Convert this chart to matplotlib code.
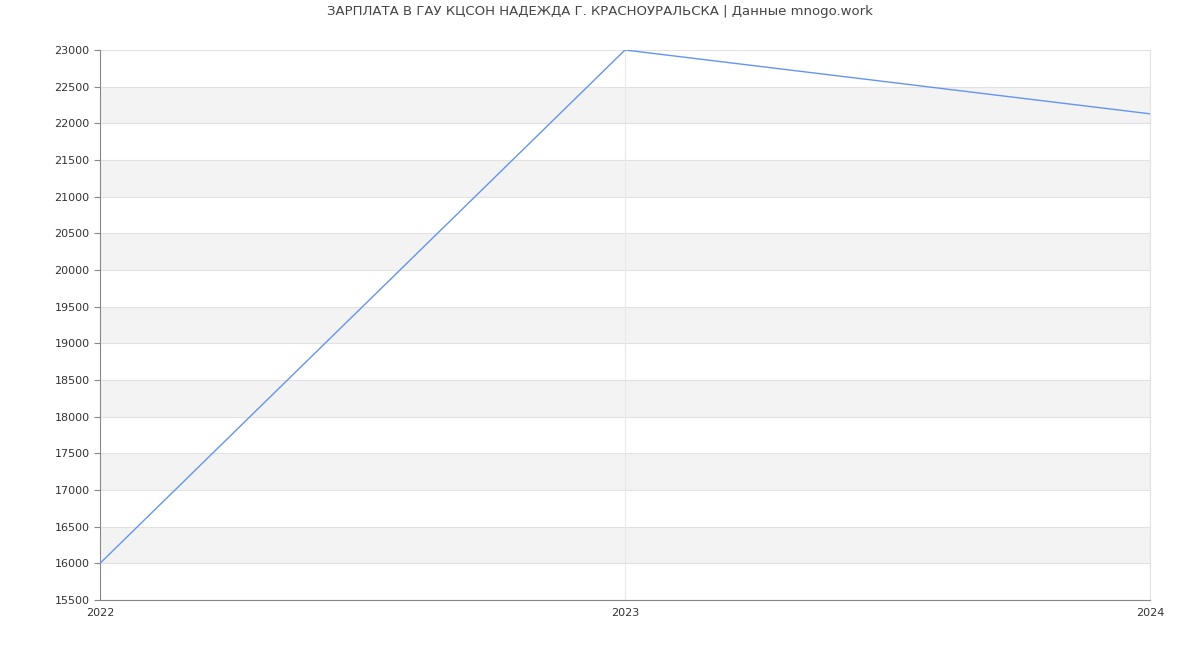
import matplotlib
matplotlib.use('Agg')
import matplotlib.pyplot as plt

# данные
years = [2022, 2023, 2024]
salary = [16000, 23000, 22130]
y_ticks = list(range(15500, 23001, 500))

fig = plt.figure(figsize=(12, 6.5), dpi=100)
ax = fig.add_axes([100/1200, 50/650, 1050/1200, 550/650])

# чередующиеся полосы
for i, lo in enumerate(y_ticks[:-1]):
    if i % 2 == 1:
        ax.axhspan(lo, lo + 500, color='#f3f3f3', zorder=0, lw=0)
for t in y_ticks:
    ax.axhline(t, color='#e2e2e2', lw=0.8, zorder=1)
for x in years:
    ax.axvline(x, color='#e8e8e8', lw=0.8, zorder=1)

ax.plot(years, salary, color='#6495ed', lw=1.0, zorder=3)

ax.set_xlim(2022, 2024)
ax.set_ylim(15500, 23000)
ax.set_xticks(years)
ax.set_yticks(y_ticks)
ax.tick_params(axis='both', labelsize=8, colors='#333333', length=4)
ax.tick_params(axis='x', length=0, pad=6)
ax.spines['top'].set_visible(False)
ax.spines['right'].set_color('#e2e2e2')
ax.spines['left'].set_color('#888888')
ax.spines['bottom'].set_color('#888888')
ax.tick_params(axis='y', color='#888888')

fig.suptitle('ЗАРПЛАТА В ГАУ КЦСОН НАДЕЖДА Г. КРАСНОУРАЛЬСКА | Данные mnogo.work',
             fontsize=9.5, color='#444444', y=0.993)

fig.savefig('out.png', dpi=100)
